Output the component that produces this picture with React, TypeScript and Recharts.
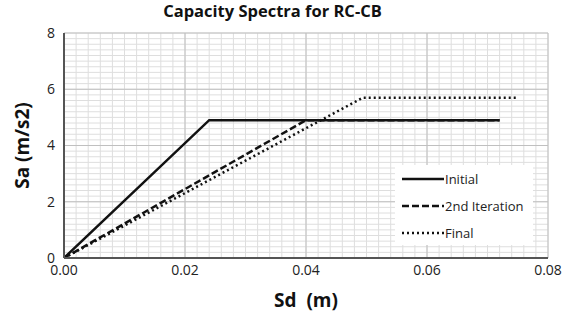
import { LineChart, Line, XAxis, YAxis, ReferenceLine } from 'recharts'

// capacity curves (Sd in m, Sa in m/s2)
const initialSd = [0, 0.024, 0.072]
const initialSa = [0, 4.9, 4.9]
const iter2Sd = [0, 0.04, 0.072]
const iter2Sa = [0, 4.9, 4.9]
const finalSd = [0, 0.0494, 0.075]
const finalSa = [0, 5.7, 5.7]

const xTicks = [0, 0.02, 0.04, 0.06, 0.08]
const yTicks = [0, 2, 4, 6, 8]

const toPts = (sd: number[], sa: number[]) => sd.map((x, i) => ({ sd: x, sa: sa[i] }))
const initial = toPts(initialSd, initialSa)
const iter2 = toPts(iter2Sd, iter2Sa)
const final = toPts(finalSd, finalSa)

// minor grid every 0.002 m / 0.2 m/s2
const minorX = Array.from({ length: 41 }, (_, i) => +(i * 0.002).toFixed(3))
const minorY = Array.from({ length: 41 }, (_, i) => +(i * 0.2).toFixed(1))

const FONT = '"Open Sans", sans-serif'

const SERIES = [
  { name: 'Initial', dash: undefined as string | undefined },
  { name: '2nd Iteration', dash: '7 3' },
  { name: 'Final', dash: '2 3' },
]

const LegendBox = () => (
  <div
    style={{
      position: 'absolute',
      left: 395,
      top: 165,
      background: '#fff',
      width: 138,
      height: 80,
      fontFamily: FONT,
      fontSize: 13,
      color: '#222',
    }}
  >
    {SERIES.map((s) => (
      <div key={s.name} style={{ display: 'flex', alignItems: 'center', height: 27, paddingLeft: 7 }}>
        <svg width={42} height={6}>
          <line x1={0} y1={3} x2={42} y2={3} stroke="#111" strokeWidth={2.5} strokeDasharray={s.dash} />
        </svg>
        <span style={{ marginLeft: 1 }}>{s.name}</span>
      </div>
    ))}
  </div>
)

export default function App() {
  return (
    <div style={{ position: 'absolute', left: 0, top: 0, width: 569, height: 325, background: '#fff' }}>
      <div
        style={{
          position: 'absolute',
          top: 0,
          left: 162,
          width: 221,
          textAlign: 'center',
          whiteSpace: 'nowrap',
          fontFamily: FONT,
          fontWeight: 700,
          fontSize: 16.5,
          lineHeight: '22px',
          color: '#111',
        }}
      >
        Capacity Spectra for RC-CB
      </div>
      <LineChart
        width={569}
        height={325}
        margin={{ top: 33, right: 21, left: 0, bottom: 0 }}
        style={{ fontFamily: FONT }}
      >
        <XAxis
          type="number"
          dataKey="sd"
          domain={[0, 0.08]}
          ticks={xTicks}
          tickFormatter={(v: number) => v.toFixed(2)}
          tick={{ fill: '#222', fontSize: 14 }}
          tickSize={0}
          tickMargin={7}
          height={67}
          stroke="#555"
          strokeWidth={2}
          allowDataOverflow
          label={{
            value: 'Sd\u00a0\u00a0(m)',
            position: 'insideBottom',
            offset: 18,
            style: { fontSize: 19, fontWeight: 700, fill: '#111' },
          }}
        />
        <YAxis
          type="number"
          dataKey="sa"
          domain={[0, 8]}
          ticks={yTicks}
          tick={{ fill: '#222', fontSize: 14 }}
          tickSize={0}
          tickMargin={9}
          width={64}
          stroke="#555"
          strokeWidth={2}
          label={{
            value: 'Sa (m/s2)',
            angle: -90,
            position: 'insideLeft',
            offset: 22,
            style: { fontSize: 19, fontWeight: 700, fill: '#111', textAnchor: 'middle' },
          }}
        />
        {minorX.map((v) => (
          <ReferenceLine key={'mx' + v} x={v} stroke="#dedede" strokeWidth={1} />
        ))}
        {minorY.map((v) => (
          <ReferenceLine key={'my' + v} y={v} stroke="#dedede" strokeWidth={1} />
        ))}
        {xTicks.map((v) => (
          <ReferenceLine key={'Mx' + v} x={v} stroke="#c0c0c0" strokeWidth={1} />
        ))}
        {yTicks.map((v) => (
          <ReferenceLine key={'My' + v} y={v} stroke="#c0c0c0" strokeWidth={1} />
        ))}
        <Line data={initial} dataKey="sa" name="Initial" stroke="#111" strokeWidth={2.5} dot={false} isAnimationActive={false} />
        <Line data={iter2} dataKey="sa" name="2nd Iteration" stroke="#111" strokeWidth={2.5} strokeDasharray="7 3" dot={false} isAnimationActive={false} />
        <Line data={final} dataKey="sa" name="Final" stroke="#111" strokeWidth={2.5} strokeDasharray="2 3" dot={false} isAnimationActive={false} />
      </LineChart>
      <LegendBox />
    </div>
  )
}
